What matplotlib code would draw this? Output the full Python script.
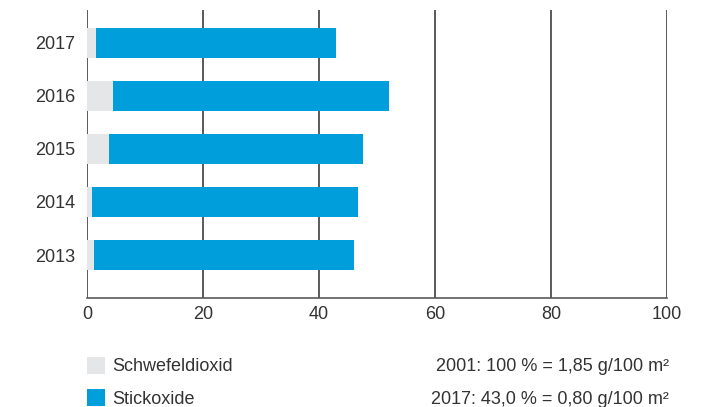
import matplotlib
matplotlib.use("Agg")
import matplotlib.pyplot as plt
from matplotlib.patches import Rectangle

years = ["2013", "2014", "2015", "2016", "2017"]
schwefeldioxid = [1.15, 0.9, 3.85, 4.5, 1.6]
stickoxide = [44.8, 45.8, 43.8, 47.5, 41.4]
x_ticks = [0, 20, 40, 60, 80, 100]
legend_labels = ["Schwefeldioxid", "Stickoxide"]
notes = ["2001: 100 % = 1,85 g/100 m²", "2017: 43,0 % = 0,80 g/100 m²"]

grey = "#E5E6E7"
blue = "#009FDB"
line_col = "#5a5a5a"
text_col = "#333333"

plt.rcParams["font.family"] = ["Liberation Sans", "DejaVu Sans"]

W, H = 712, 407
fig = plt.figure(figsize=(W / 100, H / 100), dpi=100)
ax = fig.add_axes([87 / W, 1 - 298 / H, 580 / W, 288 / H])

pos = list(range(len(years)))
ax.barh(pos, schwefeldioxid, height=0.58, color=grey, zorder=3)
ax.barh(pos, stickoxide, left=schwefeldioxid, height=0.58, color=blue, zorder=3)

ax.set_xlim(0, 100)
ax.set_ylim(-0.81, 4.62)
ax.set_xticks(x_ticks)
ax.set_xticklabels([str(t) for t in x_ticks])
ax.set_yticks(pos)
ax.set_yticklabels(years)

for t in x_ticks:
    ax.axvline(t, color=line_col, lw=1.4, zorder=1)

for s in ["top", "right", "left"]:
    ax.spines[s].set_visible(False)
ax.spines["bottom"].set_color(line_col)
ax.spines["bottom"].set_linewidth(1.2)

ax.tick_params(axis="both", length=0, labelsize=13, colors=text_col)
ax.tick_params(axis="y", pad=8.5)
ax.tick_params(axis="x", pad=6)

# legend swatches and notes below the chart
swatch_top = [357, 389]
baselines = [371, 404]
for col, lab, note, sy, by in zip([grey, blue], legend_labels, notes, swatch_top, baselines):
    fig.add_artist(Rectangle((87 / W, 1 - (sy + 17) / H), 18 / W, 17 / H,
                             transform=fig.transFigure, color=col, lw=0))
    fig.text(112 / W, 1 - by / H, lab, fontsize=13, color=text_col, va="baseline", ha="left")
    fig.text(669 / W, 1 - by / H, note, fontsize=13, color=text_col, va="baseline", ha="right")

fig.savefig("out.png", dpi=100)
